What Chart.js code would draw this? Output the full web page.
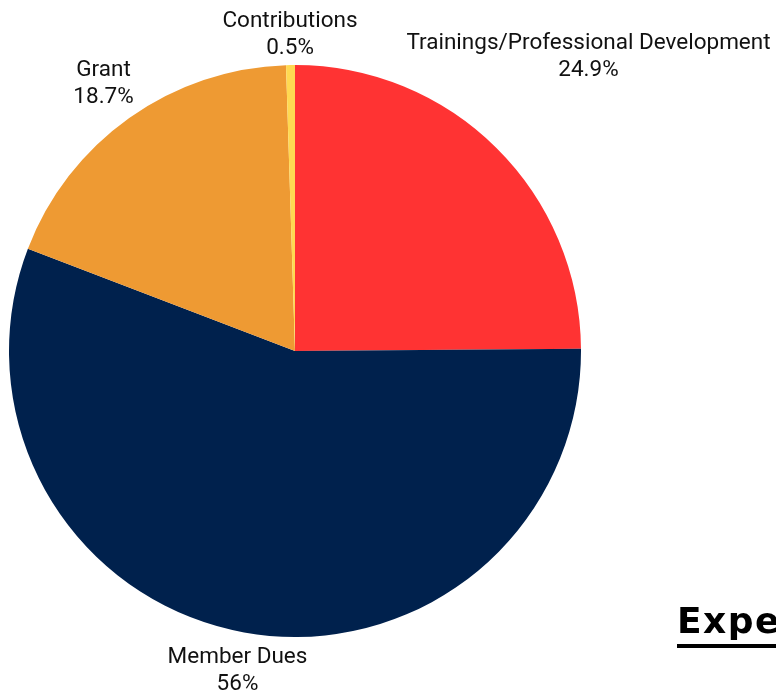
<!DOCTYPE html>
<html>
<head>
<meta charset="utf-8">
<script src="https://cdn.jsdelivr.net/npm/chart.js@4.4.0/dist/chart.umd.min.js"></script>
<style>
    html, body { margin: 0; padding: 0; background: #fff; overflow: hidden; }
    #wrap { position: relative; width: 776px; height: 697px; overflow: hidden; }
    #title {
        position: absolute; left: 677px; top: 603px; margin: 0;
        font-family: "DejaVu Sans", sans-serif; font-weight: 700; font-size: 36px; line-height: 36px;
        letter-spacing: 1.5px;
        text-decoration: underline; text-decoration-thickness: 4px; text-underline-offset: 11px;
        white-space: nowrap; color: #000;
    }
</style>
</head>
<body>
<div id="wrap">
    <canvas id="pieChart" width="776" height="697"></canvas>
    <h2 id="title">Expenses</h2>
</div>
<script>
const categories = ["Trainings/Professional Development", "Member Dues", "Grant", "Contributions"];
const shares = [24.9, 56, 18.7, 0.5];
const percentLabels = ["24.9%", "56%", "18.7%", "0.5%"];
const sliceColors = ["#ff3333", "#00214d", "#ee9a33", "#ffd952"];

// distance from the pie centre to the nearest point of a box centred at (x, y)
function boxDistance(x, y, hw, hh) {
    const ex = Math.max(Math.abs(x) - hw, 0);
    const ey = Math.max(Math.abs(y) - hh, 0);
    return Math.hypot(ex, ey);
}

// draws "name / percent" outside each slice: the box sits on the slice's middle angle,
// pushed out until its nearest point clears the rim by a small gap
const outsideLabels = {
    id: "outsideLabels",
    afterDatasetsDraw(chart) {
        const ctx = chart.ctx;
        const meta = chart.getDatasetMeta(0);
        ctx.save();
        ctx.font = "22.5px Roboto, sans-serif";
        ctx.fillStyle = "#111";
        ctx.textAlign = "center";
        ctx.textBaseline = "middle";
        const lineH = 27;
        const gap = 5;
        meta.data.forEach((arc, i) => {
            const mid = (arc.startAngle + arc.endAngle) / 2;
            const dx = Math.cos(mid), dy = Math.sin(mid);
            const hw = Math.max(ctx.measureText(categories[i]).width, ctx.measureText(percentLabels[i]).width) / 2;
            const hh = lineH;
            let lo = 0, hi = arc.outerRadius + 1000;
            for (let k = 0; k < 40; k++) {
                const m = (lo + hi) / 2;
                if (boxDistance(dx * m, dy * m, hw, hh) < arc.outerRadius + gap) lo = m; else hi = m;
            }
            const cx = arc.x + dx * hi;
            const cy = arc.y + dy * hi + 2;
            ctx.fillText(categories[i], cx, cy - lineH / 2);
            ctx.fillText(percentLabels[i], cx, cy + lineH / 2);
        });
        ctx.restore();
    }
};

new Chart(document.getElementById("pieChart").getContext("2d"), {
    type: "pie",
    data: {
        labels: categories,
        datasets: [{
            data: shares,
            backgroundColor: sliceColors,
            borderWidth: 0
        }]
    },
    options: {
        responsive: false,
        animation: false,
        layout: { padding: { left: 9, right: 195, top: 65, bottom: 60 } },
        plugins: {
            legend: { display: false },
            tooltip: { enabled: false }
        }
    },
    plugins: [outsideLabels]
});
</script>
</body>
</html>
